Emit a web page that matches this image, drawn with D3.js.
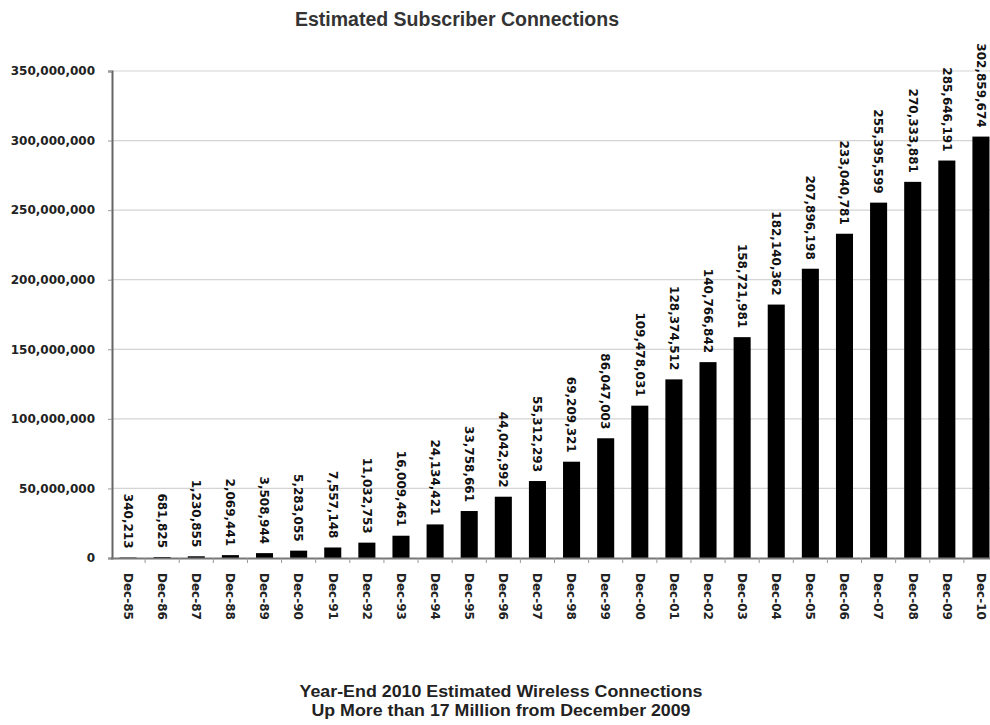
<!DOCTYPE html>
<html>
<head>
<meta charset="utf-8">
<script src="https://cdn.jsdelivr.net/npm/d3@7"></script>
<style>
  html, body { margin: 0; padding: 0; background: #fff; }
  svg { display: block; }
</style>
</head>
<body>
<script>
// Year-end wireless subscriber connections, December 1985 – December 2010
const categories = ["Dec-85","Dec-86","Dec-87","Dec-88","Dec-89","Dec-90","Dec-91","Dec-92","Dec-93",
  "Dec-94","Dec-95","Dec-96","Dec-97","Dec-98","Dec-99","Dec-00","Dec-01","Dec-02","Dec-03","Dec-04",
  "Dec-05","Dec-06","Dec-07","Dec-08","Dec-09","Dec-10"];
const connections = [340213, 681825, 1230855, 2069441, 3508944, 5283055, 7557148, 11032753, 16009461,
  24134421, 33758661, 44042992, 55312293, 69209321, 86047003, 109478031, 128374512, 140766842,
  158721981, 182140362, 207896198, 233040781, 255395599, 270333881, 285646191, 302859674];
const yTicks = [0, 50000000, 100000000, 150000000, 200000000, 250000000, 300000000, 350000000];
const titleText = "Estimated Subscriber Connections";
const footnoteLines = ["Year-End 2010 Estimated Wireless Connections", "Up More than 17 Million from December 2009"];

const W = 990, H = 725;
const plot = { left: 111, right: 998, top: 71, bottom: 558 };

const svg = d3.select("body").append("svg").attr("width", W).attr("height", H);

const x = d3.scaleBand().domain(categories).range([plot.left, plot.right]).paddingInner(0.5).paddingOuter(0.25);
const y = d3.scaleLinear().domain([0, 350000000]).range([plot.bottom, plot.top]);
const fmt = d3.format(",");

// gridlines
svg.append("g").selectAll("line").data(yTicks.filter(d => d > 0)).join("line")
  .attr("x1", plot.left).attr("x2", plot.right)
  .attr("y1", d => y(d)).attr("y2", d => y(d))
  .attr("stroke", "#d4d4d4").attr("stroke-width", 1.2);

// y axis
const yAxis = svg.append("g").attr("transform", `translate(${plot.left + 1},0)`)
  .call(d3.axisLeft(y).tickValues(yTicks).tickFormat(fmt).tickSize(4).tickPadding(13));
yAxis.select(".domain").attr("stroke", "#666").attr("stroke-width", 2);
yAxis.selectAll(".tick line").attr("stroke", "#999");
yAxis.selectAll("text")
  .attr("font-family", "DejaVu Sans, sans-serif").attr("font-weight", "bold")
  .attr("font-size", 12).attr("fill", "#222");

// bars
svg.append("g").selectAll("rect").data(connections).join("rect")
  .attr("x", (d, i) => x(categories[i]))
  .attr("width", x.bandwidth())
  .attr("y", d => y(d))
  .attr("height", d => y(0) - y(d))
  .attr("fill", "#000");

// x axis with ticks at category boundaries
const xg = svg.append("g");
xg.append("line").attr("x1", plot.left).attr("x2", plot.right)
  .attr("y1", plot.bottom + 0.5).attr("y2", plot.bottom + 0.5)
  .attr("stroke", "#777").attr("stroke-width", 2);
xg.selectAll("line.tk").data(categories).join("line").attr("class", "tk")
  .attr("x1", d => x(d) - x.step() * x.paddingInner() / 2 + x.step())
  .attr("x2", d => x(d) - x.step() * x.paddingInner() / 2 + x.step())
  .attr("y1", plot.bottom).attr("y2", plot.bottom + 5)
  .attr("stroke", "#999");
xg.selectAll("text").data(categories).join("text")
  .attr("transform", d => `translate(${x(d) + x.bandwidth() / 2},573) rotate(90)`)
  .attr("dy", "0.35em")
  .attr("text-anchor", "start")
  .attr("font-family", "DejaVu Sans, sans-serif").attr("font-weight", "bold")
  .attr("font-size", 12).attr("fill", "#222")
  .text(d => d);

// value labels above bars
svg.append("g").selectAll("text").data(connections).join("text")
  .attr("transform", (d, i) => `translate(${x(categories[i]) + x.bandwidth() / 2},${y(d) - 9}) rotate(90)`)
  .attr("dy", "0.35em")
  .attr("text-anchor", "end")
  .attr("font-family", "DejaVu Sans, sans-serif").attr("font-weight", "bold")
  .attr("font-size", 12).attr("fill", "#111")
  .text(d => fmt(d));

// title
svg.append("text")
  .attr("x", 457).attr("y", 26)
  .attr("text-anchor", "middle")
  .attr("font-family", "Liberation Sans, Arial, sans-serif").attr("font-weight", "bold")
  .attr("font-size", 19.5).attr("fill", "#333")
  .text(titleText);

// footnote
svg.append("g").selectAll("text").data(footnoteLines).join("text")
  .attr("x", 501).attr("y", (d, i) => 697 + i * 18.5)
  .attr("text-anchor", "middle")
  .attr("font-family", "Liberation Sans, Arial, sans-serif").attr("font-weight", "bold")
  .attr("font-size", 16.5).attr("fill", "#222")
  .attr("textLength", (d, i) => [403, 379][i]).attr("lengthAdjust", "spacingAndGlyphs")
  .text(d => d);
</script>
</body>
</html>
